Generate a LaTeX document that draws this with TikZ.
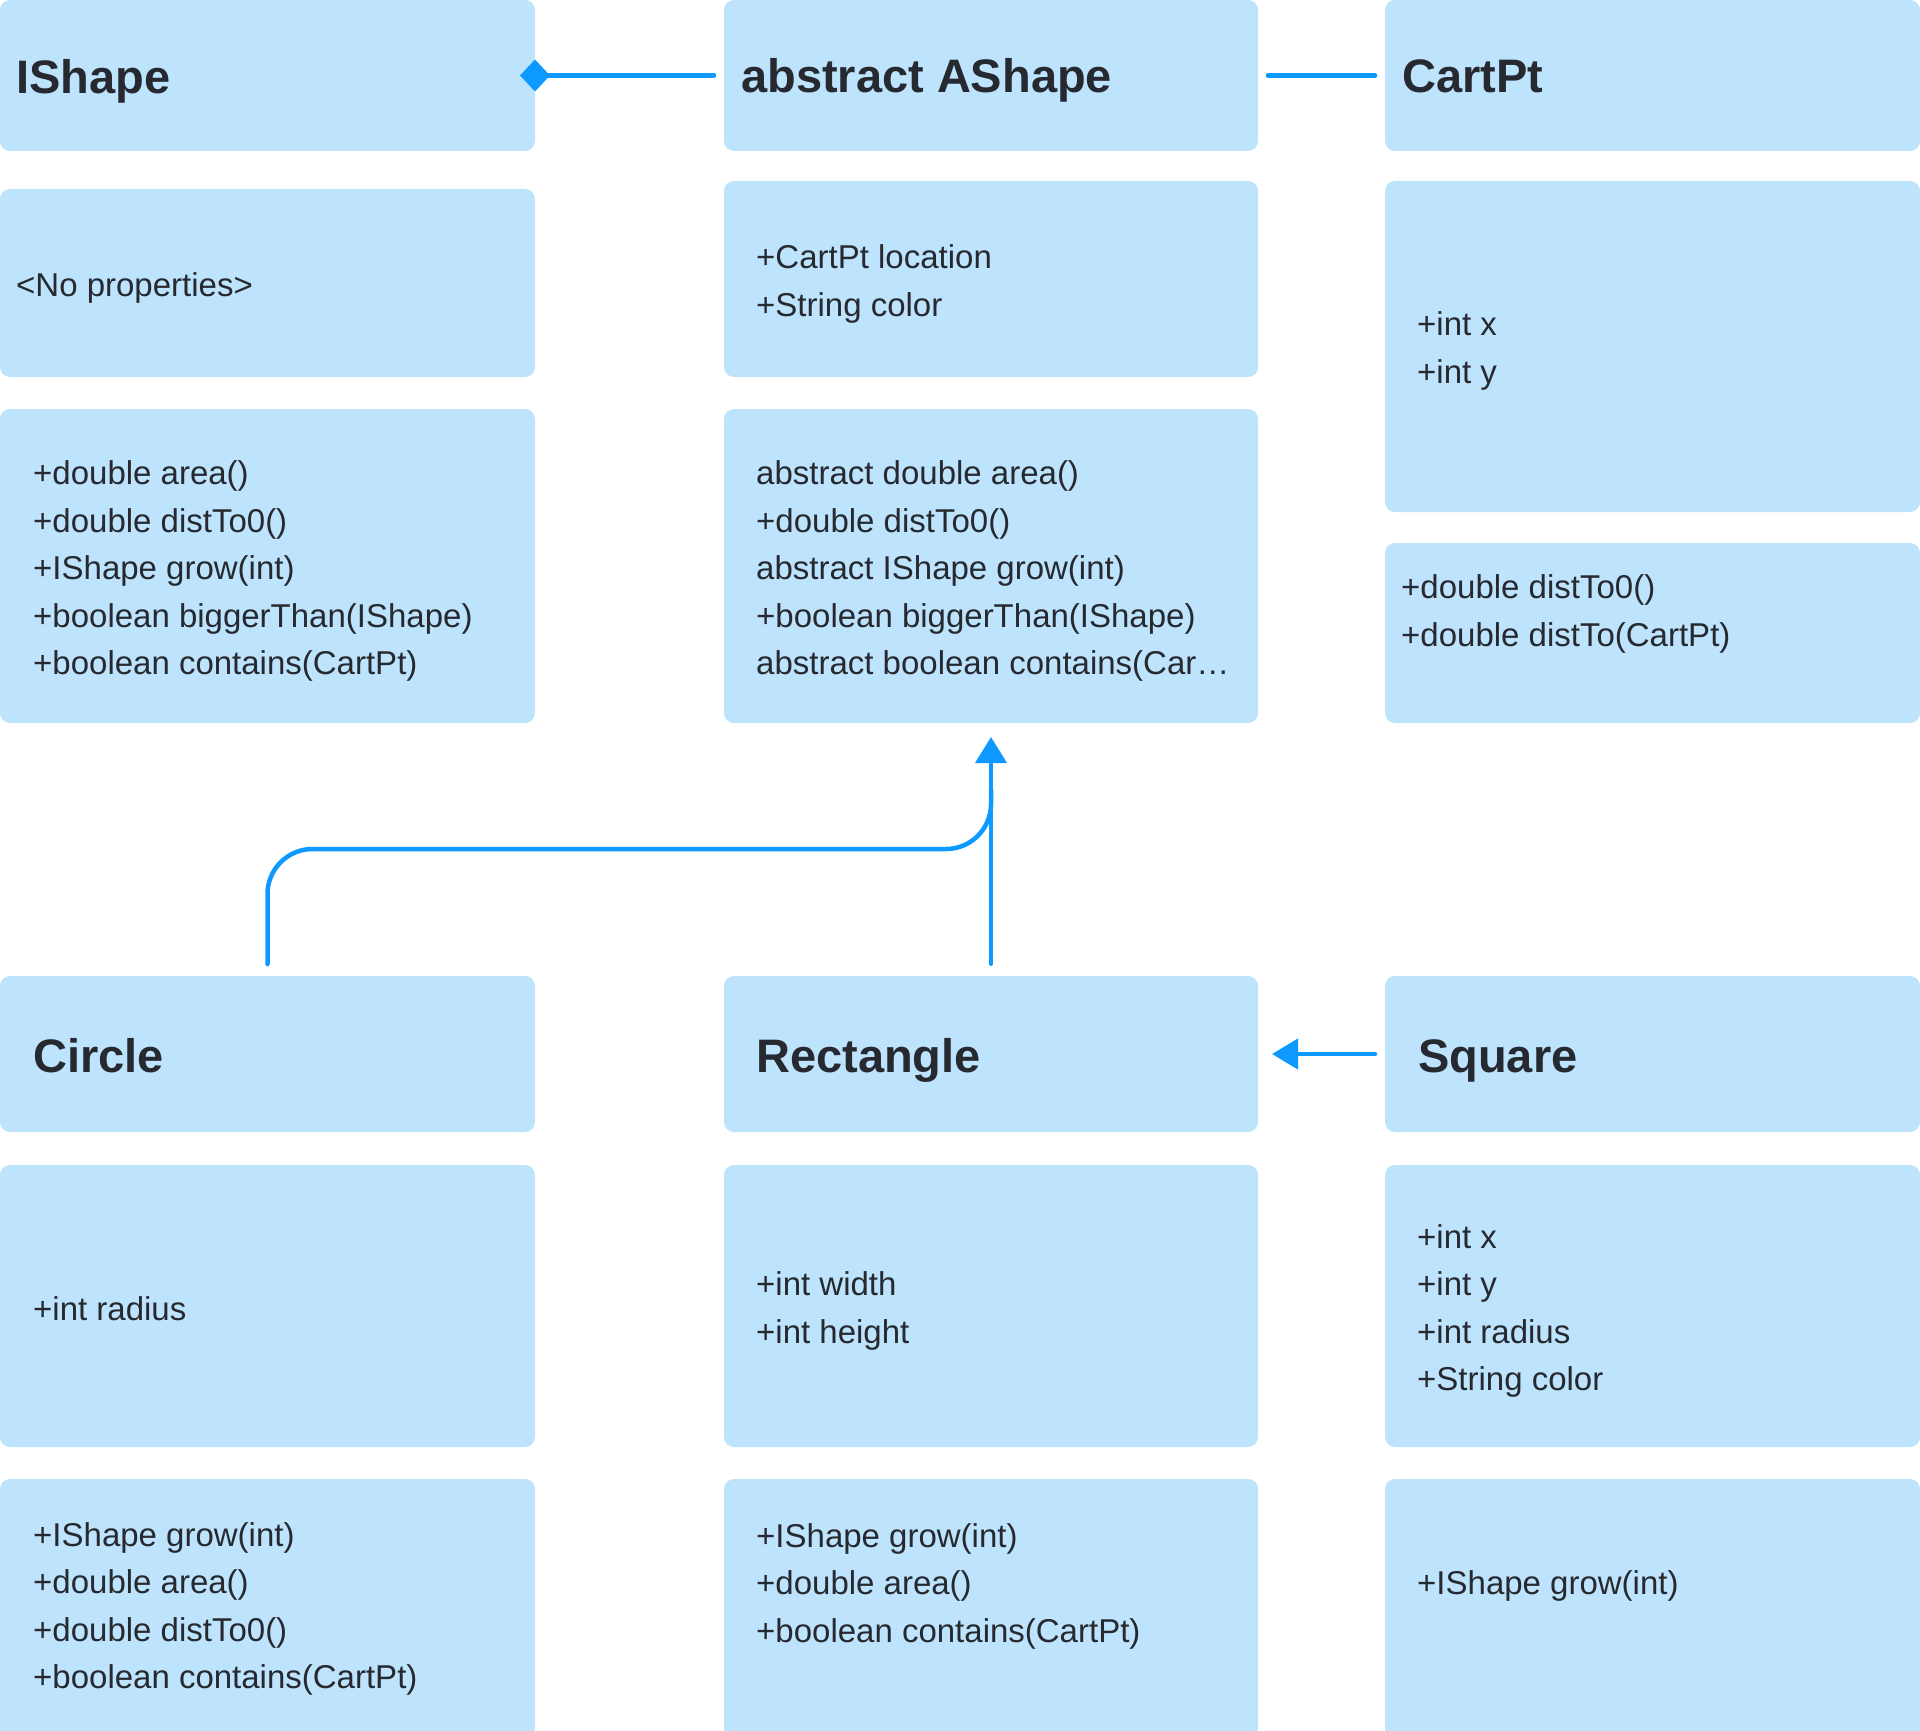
\documentclass[tikz,border=0pt]{standalone}
\usepackage{fontspec}
\setmainfont{Liberation Sans}
\usetikzlibrary{arrows.meta}
\definecolor{boxfill}{HTML}{BEE3FC}
\definecolor{linkblue}{HTML}{0D99FF}
\definecolor{ink}{HTML}{262A30}
\newcommand\umlbox[5]{\node[box, minimum width=#4pt, minimum height=#5pt] (#1) at (#2,#3) {};}
\begin{document}
\begin{tikzpicture}[x=1pt,y=-1pt,
  box/.style={fill=boxfill, draw=none, rounded corners=10pt, anchor=north west, inner sep=0pt, outer sep=0pt},
  txt/.style={anchor=west, align=left, inner sep=0pt, text=ink, font=\fontsize{33}{47.5}\selectfont},
  title/.style={anchor=base west, inner sep=0pt, text=ink, font=\fontsize{47}{56}\selectfont\bfseries},
  conn/.style={draw=linkblue, line width=4.5pt, line cap=round}]
\useasboundingbox (0,0) rectangle (1920,1731);
% top row
\umlbox{ishape}{0}{0}{535}{151}
\umlbox{ashape}{724}{0}{534}{151}
\umlbox{cartpt}{1385}{0}{535}{151}
\umlbox{iprops}{0}{189}{535}{188}
\umlbox{aprops}{724}{181}{534}{196}
\umlbox{cprops}{1385}{181}{535}{331}
\umlbox{imeth}{0}{409}{535}{314}
\umlbox{ameth}{724}{409}{534}{314}
\umlbox{cmeth}{1385}{543}{535}{180}
% bottom row
\umlbox{circle}{0}{976}{535}{156}
\umlbox{rect}{724}{976}{534}{156}
\umlbox{square}{1385}{976}{535}{156}
\umlbox{ciprops}{0}{1165}{535}{282}
\umlbox{reprops}{724}{1165}{534}{282}
\umlbox{sqprops}{1385}{1165}{535}{282}
\umlbox{cimeth}{0}{1479}{535}{260}
\umlbox{remeth}{724}{1479}{534}{260}
\umlbox{sqmeth}{1385}{1479}{535}{260}
% titles
\node[title] (ishapeT) at (16,94) {IShape};
\node[title] (ashapeT) at (741,93) {abstract AShape};
\node[title] (cartptT) at (1402,93) {CartPt};
\node[title] (circleT) at (33,1072) {Circle};
\node[title] (rectT) at (756,1072) {Rectangle};
\node[title] (squareT) at (1418,1072) {Square};
% texts
\node[txt] (t1) at (16,288) {<No properties>};
\node[txt] (t2) at (33,571) {+double area()\\+double distTo0()\\+IShape grow(int)\\+boolean biggerThan(IShape)\\+boolean contains(CartPt)};
\node[txt] (t3) at (756,284) {+CartPt location\\+String color};
\node[txt] (t4) at (756,571) {abstract double area()\\+double distTo0()\\abstract IShape grow(int)\\+boolean biggerThan(IShape)\\abstract boolean contains(Car…};
\node[txt] (t5) at (1417,351) {+int x\\+int y};
\node[txt] (t6) at (1401,614) {+double distTo0()\\+double distTo(CartPt)};
\node[txt] (t7) at (33,1309) {+int radius};
\node[txt] (t8) at (756,1311) {+int width\\+int height};
\node[txt] (t9) at (1417,1311) {+int x\\+int y\\+int radius\\+String color};
\node[txt] (t10) at (33,1609) {+IShape grow(int)\\+double area()\\+double distTo0()\\+boolean contains(CartPt)};
\node[txt] (t11) at (756,1586) {+IShape grow(int)\\+double area()\\+boolean contains(CartPt)};
\node[txt] (t12) at (1417,1586) {+IShape grow(int)};
% connectors
\draw[conn, -{Diamond[length=30pt,width=32pt]}] ([xshift=-10pt]ashape.west) -- ([xshift=-15pt]ishape.east);
\draw[conn] ([xshift=10pt]ashape.east) -- ([xshift=-10pt]cartpt.west);
\draw[conn, -{Triangle[length=26pt,width=30pt]}] ([xshift=-10pt]square.west) -- ([xshift=14pt]rect.east);
\coordinate (merge) at (991,790);
\draw[conn, rounded corners=45pt] ([yshift=12pt]circle.north) -- ++(0,-115) -| (merge);
\draw[conn, line width=4pt, -{Triangle[length=26pt,width=31pt]}] ([yshift=12pt]rect.north) -- ([yshift=-14pt]ameth.south);
\end{tikzpicture}
\end{document}
